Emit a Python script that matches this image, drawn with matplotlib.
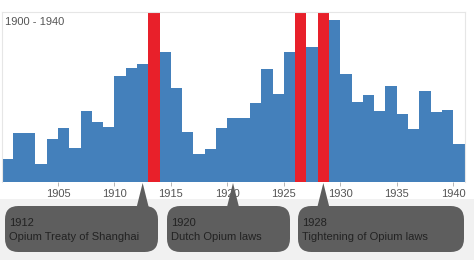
import matplotlib
matplotlib.use("Agg")
import matplotlib.pyplot as plt
from matplotlib.patches import FancyBboxPatch, Polygon, Rectangle

years = list(range(1900, 1941))
values = [22.7, 49.3, 48.7, 17.7, 43, 53.7, 33.7, 71.3, 59.7, 55.3,
          106, 113.7, 118, 120, 130.3, 93.7, 50.3, 27.7, 33, 53.7,
          64.3, 63.7, 79.3, 112.7, 88, 129.7, 140, 134.7, 150, 162,
          108, 79.7, 87, 71, 96.3, 68, 53, 91, 70.3, 72, 38]
highlight_years = [1913, 1926, 1928]
tick_years = [1905, 1910, 1915, 1920, 1925, 1930, 1935, 1940]
event_years = [1912, 1920, 1928]
event_labels = ["Opium Treaty of Shanghai", "Dutch Opium laws", "Tightening of Opium laws"]
range_label = "1900 - 1940"

W, H = 474, 260
fig = plt.figure(figsize=(W / 100, H / 100), dpi=100)
plt.rcParams['font.family'] = ['Liberation Sans', 'DejaVu Sans']

def fx(px):
    return px / W

def fy(py):
    return 1 - py / H

# light gray band behind the callouts
fig.patches.append(Rectangle((0, 0), 1, fy(199), transform=fig.transFigure,
                             facecolor='#f1f1f1', edgecolor='none', zorder=0))

ax = fig.add_axes([fx(1.5), fy(182), fx(464.5) - fx(1.5), fy(12) - fy(182)])
ymax = 170
blue = '#4480bb'
red = '#e8202a'
colors = [red if y in highlight_years else blue for y in years]
heights = [ymax if y in highlight_years else v for y, v in zip(years, values)]
ax.bar(years, heights, width=1.0, align='edge', color=colors, edgecolor='none', linewidth=0)
ax.set_xlim(1900, 1941)
ax.set_ylim(0, ymax)
ax.set_yticks([])
ax.set_xticks(tick_years)
ax.set_xticklabels([str(t) for t in tick_years])
ax.tick_params(axis='x', length=3, width=0.6, color='#aaaaaa', labelsize=8,
               labelcolor='#555555', pad=2)
for s in ax.spines.values():
    s.set_color('#e6e6e6')
    s.set_linewidth(0.8)
ax.spines['bottom'].set_visible(False)

fig.text(fx(5), fy(22), range_label, fontsize=8, color='#555555', va='center', ha='left')

# callout boxes
box_x = [(5, 158), (167, 290), (298, 464)]
box_top, box_bot = 206, 252
box_color = '#5e5e5e'
fig.canvas.draw()
for (x0, x1), yr, lab in zip(box_x, event_years, event_labels):
    p = FancyBboxPatch((fx(x0), fy(box_bot)), fx(x1) - fx(x0), fy(box_top) - fy(box_bot),
                       boxstyle='round,pad=0,rounding_size=0.028', transform=fig.transFigure,
                       facecolor=box_color, edgecolor='none', zorder=2,
                       mutation_aspect=W / H)
    fig.patches.append(p)
    disp = ax.transData.transform((yr + 0.5, 0))
    ax_px = disp[0]
    apex_y = H - disp[1] + 1
    tri = Polygon([(fx(ax_px), fy(apex_y)), (fx(ax_px - 6), fy(box_top + 1)),
                   (fx(ax_px + 6), fy(box_top + 1))], closed=True,
                  transform=fig.transFigure, facecolor=box_color, edgecolor='none', zorder=2)
    fig.patches.append(tri)
    fig.text(fx(x0 + 4), fy(223), str(yr), fontsize=8, color='#222222',
             va='center', ha='left', zorder=3)
    fig.text(fx(x0 + 4), fy(237), lab, fontsize=8, color='#222222',
             va='center', ha='left', zorder=3)

fig.savefig('out.png', dpi=100)
